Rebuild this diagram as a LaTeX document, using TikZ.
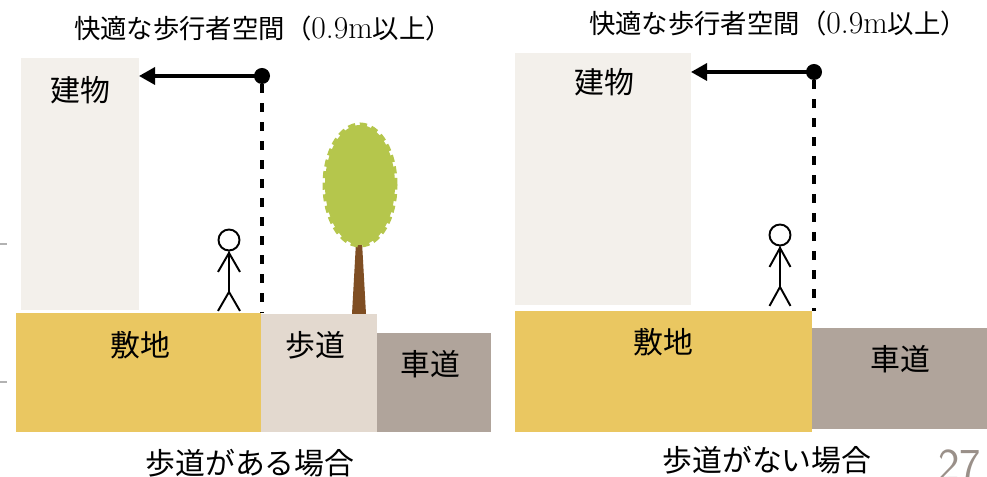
\documentclass[tikz,border=0pt]{standalone}
\usepackage{fontspec}
\newfontfamily\jp{Noto Sans CJK JP}
\usepackage{tikz}
\usetikzlibrary{arrows.meta, positioning, shapes.geometric}
\definecolor{bldgrey}{HTML}{F3F0EB}
\definecolor{siteyel}{HTML}{EAC761}
\definecolor{walkbeige}{HTML}{E3D9CF}
\definecolor{roadgrey}{HTML}{B0A49B}
\definecolor{leafgreen}{HTML}{B5C64C}
\definecolor{trunkbrown}{HTML}{7F4E23}
\definecolor{pagegrey}{HTML}{9A9089}
\newcommand{\wid}{{\rmfamily\fontsize{18}{18}\selectfont 0.9m}}

\begin{document}
\begin{tikzpicture}[
  ttl/.style={font=\jp\fontsize{15}{18}\selectfont, inner sep=0pt},
  lb/.style={font=\jp\fontsize{17}{20}\selectfont, inner sep=0pt},
  blk/.style={rectangle, inner sep=0pt, outer sep=0pt},
  dt/.style={circle, fill=black, minimum size=0.32cm, inner sep=0pt},
  wd/.style={-{Triangle[length=3.2mm, width=3.4mm]}, line width=1.9pt},
  lim/.style={line width=1.8pt, dash pattern=on 1.8mm off 2.0mm},
  hd/.style={circle, draw, line width=1.1pt, minimum size=0.42cm, inner sep=0pt},
  fig/.style={line width=1.1pt},
  crown/.style={ellipse, fill=leafgreen, draw=leafgreen, line width=0.1cm,
    dash pattern=on 0.14cm off 0.09cm, minimum width=1.40cm, minimum height=2.40cm}]
\useasboundingbox (0,0) rectangle (19.74,9.54);

% ---- left: with sidewalk ----
\node[blk, fill=bldgrey, minimum width=2.36cm, minimum height=5.04cm] (bldL) at (1.60,5.86) {};
\node[blk, fill=siteyel, minimum width=4.90cm, minimum height=2.38cm] (siteL) at (2.77,2.09) {};
\node[blk, fill=walkbeige, minimum width=2.32cm, minimum height=2.36cm] (walkL) at (6.38,2.08) {};
\node[blk, fill=roadgrey, minimum width=2.28cm, minimum height=1.98cm] (roadL) at (8.68,1.89) {};
\node[lb] (bldLt) at (1.60,7.74) {建物};
\node[lb] (siteLt) at (2.80,2.64) {敷地};
\node[lb] (walkLt) at (6.30,2.64) {歩道};
\node[lb] (roadLt) at (8.60,2.26) {車道};
\node[ttl] (ttlL) at (5.26,8.98) {快適な歩行者空間（\wid 以上）};
\node[dt] (dotL) at (5.24,8.02) {};
\draw[wd] (dotL.center) -- (bldL.east |- dotL);
\draw[lim] (dotL) -- (dotL |- siteL.north);
% person
\node[hd] (hdL) at (4.58,4.74) {};
\draw[fig] (hdL.south) -- ++(0,-0.81) coordinate (hipL) -- ++(-0.22,-0.38);
\draw[fig] (hipL) -- ++(0.22,-0.38);
\draw[fig] (hdL.south) ++(0,-0.03) coordinate (shL) -- ++(-0.22,-0.38);
\draw[fig] (shL) -- ++(0.22,-0.38);
% tree
\fill[trunkbrown] (7.04,3.26) -- (7.12,4.70) -- (7.24,4.70) -- (7.32,3.26) -- cycle;
\node[crown] (crownL) at (7.20,5.84) {};
\node[lb] (capL) at (5.00,0.28) {歩道がある場合};

% ---- right: no sidewalk ----
\node[blk, fill=bldgrey, minimum width=3.52cm, minimum height=5.04cm] (bldR) at (12.06,5.96) {};
\node[blk, fill=siteyel, minimum width=5.94cm, minimum height=2.42cm] (siteR) at (13.27,2.11) {};
\node[blk, fill=roadgrey, minimum width=3.50cm, minimum height=2.02cm] (roadR) at (17.99,1.97) {};
\node[lb] (bldRt) at (12.08,7.90) {建物};
\node[lb] (siteRt) at (13.26,2.70) {敷地};
\node[lb] (roadRt) at (18.00,2.36) {車道};
\node[ttl] (ttlR) at (15.56,9.08) {快適な歩行者空間（\wid 以上）};
\node[dt] (dotR) at (16.28,8.10) {};
\draw[wd] (dotR.center) -- (bldR.east |- dotR);
\draw[lim] (dotR) -- (dotR |- siteR.north);
\node[hd] (hdR) at (15.60,4.84) {};
\draw[fig] (hdR.south) -- ++(0,-0.81) coordinate (hipR) -- ++(-0.21,-0.38);
\draw[fig] (hipR) -- ++(0.21,-0.38);
\draw[fig] (hdR.south) ++(0,-0.03) coordinate (shR) -- ++(-0.21,-0.38);
\draw[fig] (shR) -- ++(0.21,-0.38);
\node[lb] (capR) at (15.34,0.34) {歩道がない場合};

% page number and edge marks
\node[anchor=base west, inner sep=0pt, text=pagegrey, font=\sffamily\fontsize{26}{30}\selectfont] (pg) at (18.76,-0.08) {27};
\draw[gray!60, line width=0.8pt] (0,4.66) -- (0.14,4.66);
\draw[gray!60, line width=0.8pt] (0,1.90) -- (0.14,1.90);
\end{tikzpicture}
\end{document}
